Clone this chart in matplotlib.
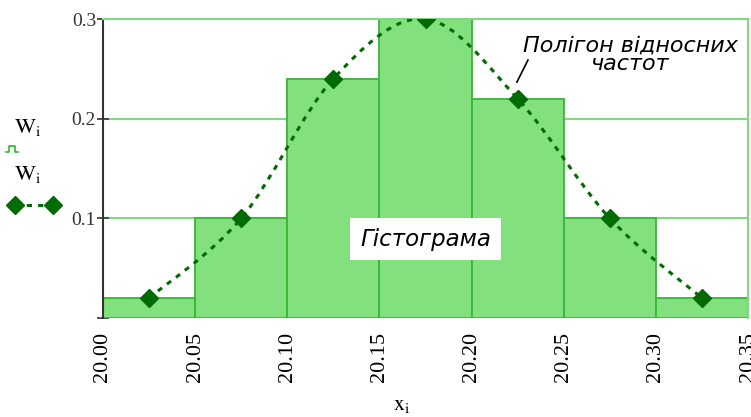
import numpy as np
import matplotlib
matplotlib.use("Agg")
import matplotlib.pyplot as plt
from matplotlib.path import Path
from matplotlib.patches import PathPatch
from matplotlib.lines import Line2D

# interval edges and relative frequencies
edges = [20.00, 20.05, 20.10, 20.15, 20.20, 20.25, 20.30, 20.35]
mids = [20.025, 20.075, 20.125, 20.175, 20.225, 20.275, 20.325]
w = [0.02, 0.10, 0.24, 0.30, 0.22, 0.10, 0.02]
xticks = [20.00, 20.05, 20.10, 20.15, 20.20, 20.25, 20.30, 20.35]
yticks = [0.0, 0.1, 0.2, 0.3]

bar_fill = '#82e07f'
bar_edge = '#35b835'
grid_col = '#80d980'
dark = '#006b00'

plt.rcParams['mathtext.fontset'] = 'stix'

fig = plt.figure(figsize=(7.51, 4.17), dpi=100)
ax = fig.add_axes([103 / 751, 1 - 318 / 417, 645 / 751, 299 / 417])

# histogram
ax.bar(edges[:-1], w, width=np.diff(edges), align='edge',
       color=bar_fill, edgecolor=bar_edge, linewidth=1.3, zorder=2)

# polygon of relative frequencies, smoothed with a Catmull-Rom style bezier
px = np.array(mids)
py = np.array(w)
verts = [(px[0], py[0])]
codes = [Path.MOVETO]
n = len(px)
for i in range(n - 1):
    p0 = np.array([px[max(i - 1, 0)], py[max(i - 1, 0)]])
    p1 = np.array([px[i], py[i]])
    p2 = np.array([px[i + 1], py[i + 1]])
    p3 = np.array([px[min(i + 2, n - 1)], py[min(i + 2, n - 1)]])
    c1 = p1 + (p2 - p0) / 6
    c2 = p2 - (p3 - p1) / 6
    verts += [tuple(c1), tuple(c2), tuple(p2)]
    codes += [Path.CURVE4] * 3
curve = PathPatch(Path(verts, codes), facecolor='none', edgecolor=dark,
                  linewidth=2.2, linestyle=(0, (1.7, 2.0)), zorder=3)
ax.add_patch(curve)
ax.plot(mids, w, linestyle='none', marker='D', markersize=9.5,
        color=dark, zorder=4)

ax.set_xlim(edges[0], edges[-1])
ax.set_ylim(0, 0.3)
ax.set_xticks(xticks)
ax.set_xticklabels(['%.2f' % v for v in xticks], rotation=90,
                   fontsize=16, family='Liberation Serif')
ax.set_yticks(yticks)
ax.set_yticklabels(['', '0.1', '0.2', '0.3'], fontsize=14,
                   family='Liberation Serif')
ax.tick_params(axis='x', length=0, pad=10)
ax.tick_params(axis='y', direction='inout', length=8, width=1.2,
               pad=1, colors='#333333')
ax.yaxis.grid(True, color=grid_col, linewidth=1.5, zorder=0)
ax.set_axisbelow(True)

for s in ['top', 'right']:
    ax.spines[s].set_color(grid_col)
    ax.spines[s].set_linewidth(1.5)
ax.spines['bottom'].set_visible(False)
ax.spines['left'].set_color('#333333')
ax.spines['left'].set_linewidth(1.5)

ax.set_xlabel(r'$\mathrm{x}_\mathrm{i}$', fontsize=16)
ax.xaxis.label.set_va('center')
ax.xaxis.set_label_coords(0.4636, -0.291)

# annotations
ax.text(20.175, 0.079, 'Гістограма', fontsize=16.5, style='italic',
        family='DejaVu Sans', ha='center', va='center', zorder=5,
        bbox=dict(facecolor='white', edgecolor='none', pad=7))
ax.text(20.286, 0.264, 'Полігон відносних\nчастот', fontsize=16,
        style='italic', family='DejaVu Sans', ha='center', va='center',
        linespacing=0.95, zorder=5)
ax.add_line(Line2D([20.2306, 20.2246], [0.2588, 0.2367], color='black',
                   linewidth=1.2, zorder=5))

# legend at the left side
fig.text(14 / 751, 1 - 128 / 417, r'$\mathrm{W}_\mathrm{i}$', fontsize=16,
         va='center')
fig.add_artist(Line2D(np.array([6, 9, 9, 15, 15, 18]) / 751,
                      1 - np.array([152, 152, 146, 146, 152, 152]) / 417,
                      color='#2db82d', linewidth=1.2))
fig.text(14 / 751, 1 - 174 / 417, r'$\mathrm{W}_\mathrm{i}$', fontsize=16,
         va='center')
fig.add_artist(Line2D(np.array([15, 53]) / 751, [1 - 205 / 417] * 2,
                      color=dark, linewidth=2.2, linestyle=(0, (1.7, 2.0)),
                      marker='D', markersize=9.5, markevery=[0, 1]))

fig.savefig('out.png', dpi=100)
